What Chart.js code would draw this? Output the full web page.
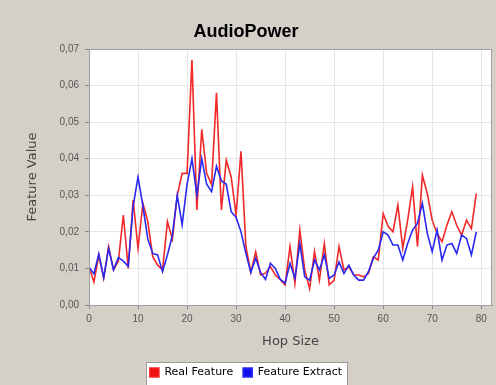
<!DOCTYPE html>
<html>
<head>
<meta charset="utf-8">
<script src="https://cdn.jsdelivr.net/npm/chart.js@4.4.1/dist/chart.umd.min.js"></script>
<style>
  html, body { margin: 0; padding: 0; background: #d4d0c8; }
</style>
</head>
<body>
<canvas id="audioChart" width="496" height="385"></canvas>
<script>
// ====== DATA ======
const hopSize = [
  0, 1, 2, 3, 4, 5, 6, 7, 8, 9, 10, 11, 12, 13, 14, 15, 16, 17, 18, 19,
  20, 21, 22, 23, 24, 25, 26, 27, 28, 29, 30, 31, 32, 33, 34, 35, 36, 37, 38, 39,
  40, 41, 42, 43, 44, 45, 46, 47, 48, 49, 50, 51, 52, 53, 54, 55, 56, 57, 58, 59,
  60, 61, 62, 63, 64, 65, 66, 67, 68, 69, 70, 71, 72, 73, 74, 75, 76, 77, 78, 79
];

const realFeature = [
  0.0104, 0.0063, 0.0136, 0.0073, 0.0160, 0.0096, 0.0120, 0.0246, 0.0100, 0.0287,
  0.0155, 0.0278, 0.0228, 0.0132, 0.0109, 0.0096, 0.0228, 0.0180, 0.0300, 0.0360,
  0.0360, 0.0670, 0.0260, 0.0480, 0.0360, 0.0330, 0.0580, 0.0260, 0.0396, 0.0350,
  0.0246, 0.0420, 0.0160, 0.0089, 0.0145, 0.0082, 0.0087, 0.0105, 0.0082, 0.0070,
  0.0055, 0.0160, 0.0059, 0.0205, 0.0096, 0.0045, 0.0146, 0.0068, 0.0168, 0.0055,
  0.0068, 0.0160, 0.0096, 0.0105, 0.0082, 0.0082, 0.0077, 0.0086, 0.0132, 0.0123,
  0.0250, 0.0215, 0.0200, 0.0273, 0.0155, 0.0232, 0.0323, 0.0160, 0.0355, 0.0305,
  0.0232, 0.0196, 0.0173, 0.0218, 0.0255, 0.0218, 0.0191, 0.0232, 0.0209, 0.0305
];

const featureExtract = [
  0.0104, 0.0085, 0.0140, 0.0075, 0.0155, 0.0096, 0.0130, 0.0120, 0.0106, 0.0270,
  0.0350, 0.0270, 0.0180, 0.0141, 0.0137, 0.0091, 0.0137, 0.0190, 0.0300, 0.0220,
  0.0330, 0.0400, 0.0300, 0.0400, 0.0330, 0.0310, 0.0380, 0.0340, 0.0330, 0.0255,
  0.0240, 0.0200, 0.0141, 0.0089, 0.0128, 0.0089, 0.0070, 0.0114, 0.0100, 0.0070,
  0.0060, 0.0114, 0.0073, 0.0168, 0.0077, 0.0068, 0.0123, 0.0096, 0.0137, 0.0073,
  0.0082, 0.0118, 0.0086, 0.0109, 0.0082, 0.0068, 0.0068, 0.0091, 0.0128, 0.0150,
  0.0200, 0.0191, 0.0164, 0.0164, 0.0123, 0.0168, 0.0205, 0.0223, 0.0278, 0.0196,
  0.0146, 0.0205, 0.0123, 0.0164, 0.0168, 0.0141, 0.0191, 0.0182, 0.0137, 0.0200
];

const xTickValues = [0, 10, 20, 30, 40, 50, 60, 70, 80];
const yTickValues = [0, 0.01, 0.02, 0.03, 0.04, 0.05, 0.06, 0.07];

// white plot + framed legend on the grey panel
const backdrop = {
  id: 'backdrop',
  beforeDraw(chart) {
    const { ctx, chartArea: a } = chart;
    ctx.save();
    ctx.fillStyle = '#d4d0c8';
    ctx.fillRect(0, 0, chart.width, chart.height);
    ctx.fillStyle = '#ffffff';
    ctx.fillRect(a.left, a.top, a.right - a.left, a.bottom - a.top);

    const boxes = chart.legend.legendHitBoxes || [];
    if (boxes.length) {
      const l = Math.min(...boxes.map(b => b.left)) - 4;
      const r = Math.max(...boxes.map(b => b.left + b.width)) + 5;
      const t = boxes[0].top - 5;
      ctx.fillRect(l, t, r - l, chart.height - t + 4);
      ctx.strokeStyle = '#9a9a9a';
      ctx.lineWidth = 1;
      ctx.strokeRect(Math.round(l) + 0.5, Math.round(t) + 0.5, Math.round(r - l), chart.height);
    }
    ctx.restore();
  },
  afterDraw(chart) {
    const { ctx, chartArea: a } = chart;
    ctx.save();
    ctx.strokeStyle = '#a0a0a0';
    ctx.lineWidth = 1;
    ctx.strokeRect(a.left + 0.5, a.top + 0.5, a.right - a.left - 1, a.bottom - a.top);
    ctx.restore();
  }
};

new Chart(document.getElementById('audioChart'), {
  type: 'line',
  data: {
    datasets: [{
      label: 'Real Feature',
      data: hopSize.map((h, i) => ({ x: h, y: realFeature[i] })),
      borderColor: '#f02828',
      backgroundColor: '#f01010',
      borderWidth: 1.6,
      pointRadius: 0,
      tension: 0,
      order: 1
    }, {
      label: 'Feature Extract',
      data: hopSize.map((h, i) => ({ x: h, y: featureExtract[i] })),
      borderColor: '#2828f0',
      backgroundColor: '#1010f0',
      borderWidth: 1.6,
      pointRadius: 0,
      tension: 0,
      order: 0
    }]
  },
  options: {
    responsive: false,
    animation: false,
    layout: { padding: { left: 0, right: 4, top: 0, bottom: -3 } },
    plugins: {
      title: {
        display: true,
        text: 'AudioPower',
        color: '#000',
        font: { family: 'Liberation Sans, Arial, sans-serif', size: 18, weight: 'bold' },
        padding: { top: 21, bottom: 6.4 }
      },
      legend: {
        position: 'bottom',
        labels: {
          boxWidth: 9,
          boxHeight: 9,
          padding: 10,
          color: '#000',
          font: { family: 'DejaVu Sans, sans-serif', size: 11 },
          sort: (a, b) => a.datasetIndex - b.datasetIndex
        }
      },
      tooltip: { enabled: false }
    },
    scales: {
      x: {
        type: 'linear',
        min: 0,
        max: 82.2,
        afterBuildTicks: s => { s.ticks = xTickValues.map(v => ({ value: v })); },
        afterFit: s => { s.height = 52; },
        ticks: {
          color: '#555',
          padding: 4,
          maxRotation: 0,
          font: { family: 'Liberation Sans, Arial, sans-serif', size: 10 }
        },
        grid: { color: '#e6e6e6', tickColor: '#888', tickLength: 4 },
        border: { color: '#888' },
        title: {
          display: true,
          text: 'Hop Size',
          color: '#444',
          font: { family: 'DejaVu Sans, sans-serif', size: 13 },
          padding: { top: 0, bottom: 8 }
        }
      },
      y: {
        min: 0,
        max: 0.07,
        afterBuildTicks: s => { s.ticks = yTickValues.map(v => ({ value: v })); },
        afterFit: s => { s.width = 89; },
        ticks: {
          color: '#555',
          padding: 6,
          callback: v => v.toFixed(2).replace('.', ','),
          font: { family: 'Liberation Sans, Arial, sans-serif', size: 10 }
        },
        grid: { color: '#e6e6e6', tickColor: '#888', tickLength: 4 },
        border: { color: '#888' },
        title: {
          display: true,
          text: 'Feature Value',
          color: '#444',
          font: { family: 'DejaVu Sans, sans-serif', size: 13 },
          padding: { top: 25, bottom: 0 }
        }
      }
    }
  },
  plugins: [backdrop]
});
</script>
</body>
</html>
